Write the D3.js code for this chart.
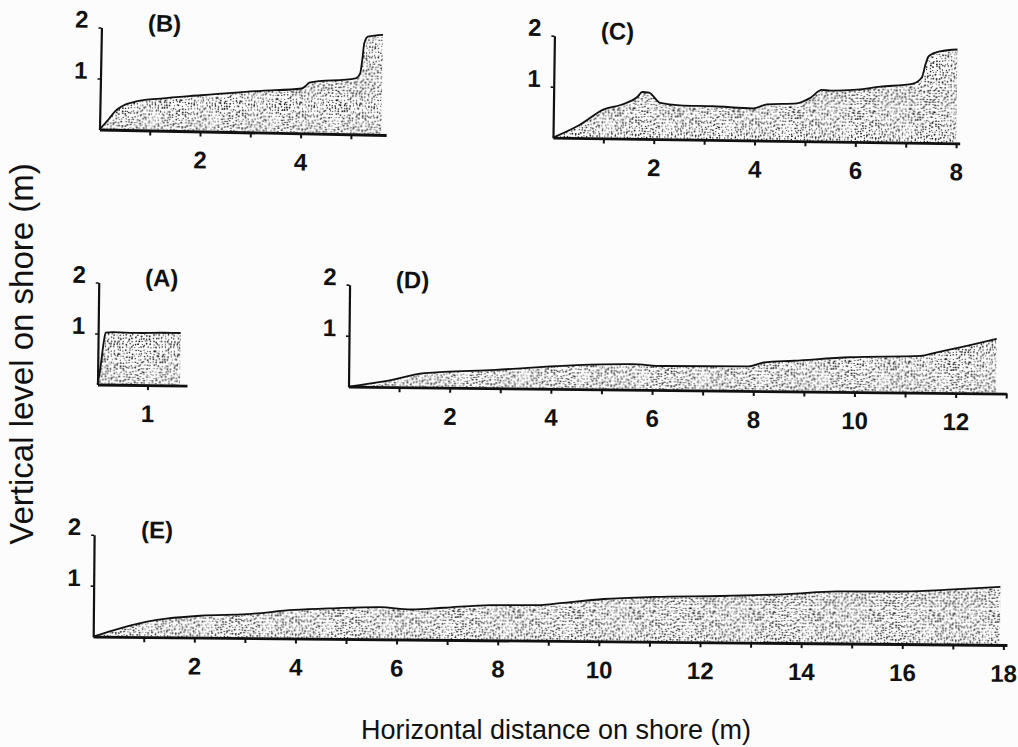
<!DOCTYPE html>
<html>
<head>
<meta charset="utf-8">
<script src="https://cdn.jsdelivr.net/npm/d3@7"></script>
<style>
  body { margin: 0; background: #fcfcfc; }
  svg { display: block; font-family: "Liberation Sans", Arial, sans-serif; }
</style>
</head>
<body>
<svg id="chart" width="1018" height="747"></svg>
<script>
// Beach profiles, [horizontal distance (m), vertical level (m)]
const profileA = [[0, 0], [0.05, 0.3], [0.1, 0.72], [0.15, 1.02], [0.3, 1.03], [0.8, 1.02], [1.3, 1.03], [1.65, 1.03]]
const profileB = [[0, 0], [0.19, 0.22], [0.32, 0.38], [0.43, 0.46], [0.67, 0.55], [1.2, 0.63], [2, 0.71],
  [3.2, 0.82], [4, 0.88], [4.08, 0.93], [4.15, 1.0], [5.07, 1.1], [5.16, 1.2], [5.2, 1.5], [5.23, 1.79],
  [5.3, 1.92], [5.6, 1.96]]
const profileC = [[0, 0], [0.53, 0.26], [1.0, 0.57], [1.33, 0.66], [1.66, 0.82], [1.76, 0.92], [1.89, 0.91],
  [2.12, 0.71], [2.51, 0.67], [3.17, 0.66], [3.97, 0.63], [4.23, 0.71], [4.83, 0.74], [5.09, 0.85],
  [5.32, 1.01], [5.49, 1.0], [5.95, 1.02], [6.48, 1.09], [7.13, 1.16], [7.3, 1.28], [7.37, 1.54],
  [7.43, 1.7], [7.66, 1.8], [8.0, 1.84]]
const profileD = [[0, 0], [0.7, 0.11], [1.5, 0.28], [2.9, 0.36], [4.5, 0.47], [5.6, 0.5], [6.2, 0.47],
  [7.9, 0.48], [8.2, 0.56], [8.8, 0.6], [9.9, 0.68], [11.3, 0.72], [11.6, 0.79], [12.1, 0.9], [12.8, 1.07]]
const profileE = [[0, 0], [0.53, 0.17], [1.26, 0.34], [2.12, 0.43], [3.04, 0.47], [3.96, 0.56], [4.75, 0.6],
  [5.67, 0.63], [6.27, 0.59], [6.93, 0.63], [7.85, 0.69], [8.84, 0.7], [9.23, 0.74], [10.09, 0.83],
  [11.08, 0.88], [12.4, 0.91], [13.72, 0.96], [14.7, 1.02], [16.02, 1.03], [17.0, 1.08], [17.93, 1.14]]

const panelNames = ['(A)', '(B)', '(C)', '(D)', '(E)']
const panelProfiles = [profileA, profileB, profileC, profileD, profileE]
const xAxisEnds = [1.79, 5.7, 8.07, 13.0, 18.07]
const xLabelEvery = [1, 2, 2, 2, 2]
const yTicks = [1, 2]

const xTitle = 'Horizontal distance on shore (m)'
const yTitle = 'Vertical level on shore (m)'

// Where each little panel sits on the page (origin = axis corner), px per metre, and scan tilt
const panelOrigins = [[97.5, 384.5], [99.5, 129.5], [553, 137.7], [348.5, 386.7], [93.2, 636.7]]
const panelXScale = [50, 50.3, 50.4, 50.6, 50.57]
const panelTilt = [0.7, 1.1, 0.8, 0.6, 0.52]
const yPerMetre = 51

const ink = '#111'
const svg = d3.select('#chart')

// Stipple texture for the sand
const defs = svg.append('defs')
let seed = 11
const rand = () => (seed = (seed * 16807) % 2147483647) / 2147483647
const tile = 60, step = 3
const pat = defs.append('pattern')
  .attr('id', 'stipple')
  .attr('patternUnits', 'userSpaceOnUse')
  .attr('width', tile)
  .attr('height', tile)
for (let gx = 0; gx < tile; gx += step) {
  for (let gy = 0; gy < tile; gy += step) {
    pat.append('circle')
      .attr('cx', gx + 0.5 + rand() * (step - 1))
      .attr('cy', gy + 0.5 + rand() * (step - 1))
      .attr('r', 0.5 + rand() * 0.45)
      .attr('fill', ink)
  }
}

panelNames.forEach((name, i) => {
  const [ox, oy] = panelOrigins[i]
  const profile = panelProfiles[i]
  const g = svg.append('g')
    .attr('transform', `translate(${ox},${oy}) rotate(${panelTilt[i]})`)

  const x = d3.scaleLinear().domain([0, xAxisEnds[i]]).range([0, xAxisEnds[i] * panelXScale[i]])
  const y = d3.scaleLinear().domain([0, 2]).range([0, -2 * yPerMetre])

  // sand body
  const area = d3.area()
    .x(d => x(d[0]))
    .y0(y(0))
    .y1(d => y(d[1]))
    .curve(d3.curveMonotoneX)
  g.append('path')
    .datum(profile)
    .attr('d', area)
    .attr('fill', 'url(#stipple)')

  // surface outline
  const line = d3.line()
    .x(d => x(d[0]))
    .y(d => y(d[1]))
    .curve(d3.curveMonotoneX)
  g.append('path')
    .datum(profile)
    .attr('d', line)
    .attr('fill', 'none')
    .attr('stroke', ink)
    .attr('stroke-width', 1.8)
    .attr('stroke-linejoin', 'round')

  // x axis
  const every = xLabelEvery[i]
  const xAxis = d3.axisBottom(x)
    .tickValues(d3.range(1, Math.floor(xAxisEnds[i]) + 1))
    .tickSize(5)
    .tickSizeOuter(0)
    .tickPadding(15)
    .tickFormat(d => d % every === 0 ? d : '')
  const xg = g.append('g').call(xAxis)
  xg.select('.domain').attr('stroke', ink).attr('stroke-width', 2.8)
  xg.selectAll('.tick line').attr('stroke', ink).attr('stroke-width', 2)
  xg.selectAll('.tick text')
    .attr('fill', ink)
    .style('font-size', '24px')
    .style('font-weight', 'bold')

  // y axis
  const yAxis = d3.axisLeft(y)
    .tickValues(yTicks)
    .tickFormat(d3.format('d'))
    .tickSize(3)
    .tickSizeOuter(0)
    .tickPadding(10)
  const yg = g.append('g').call(yAxis)
  yg.select('.domain').attr('stroke', ink).attr('stroke-width', 2.2)
  yg.selectAll('.tick line').attr('stroke', ink).attr('stroke-width', 1.6)
  yg.selectAll('.tick text')
    .attr('fill', ink)
    .attr('dy', '0em')
    .style('font-size', '24px')
    .style('font-weight', 'bold')

  // panel letter
  g.append('text')
    .attr('x', 63)
    .attr('y', y(2) + 3)
    .attr('text-anchor', 'middle')
    .attr('fill', ink)
    .style('font-size', '24px')
    .style('font-weight', 'bold')
    .text(name)
})

// axis titles
svg.append('text')
  .attr('x', 556)
  .attr('y', 739)
  .attr('text-anchor', 'middle')
  .attr('fill', ink)
  .style('font-size', '27px')
  .text(xTitle)

svg.append('text')
  .attr('transform', 'translate(33,354) rotate(-90)')
  .attr('text-anchor', 'middle')
  .attr('fill', ink)
  .style('font-size', '33px')
  .text(yTitle)
</script>
</body>
</html>
